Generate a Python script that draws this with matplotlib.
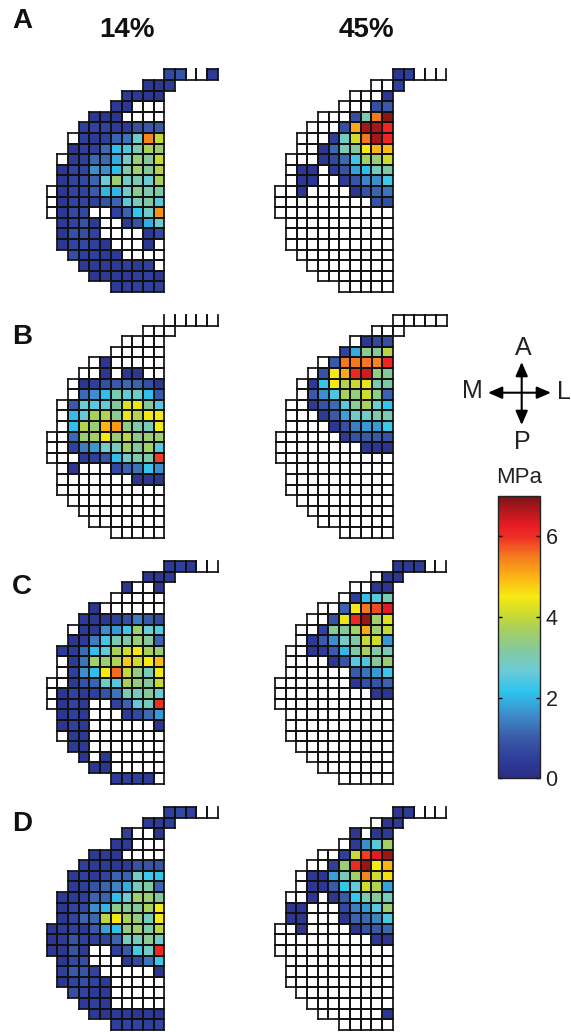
import numpy as np
import matplotlib
matplotlib.use("Agg")
import matplotlib.pyplot as plt
from matplotlib.colors import LinearSegmentedColormap, Normalize
from matplotlib.cm import ScalarMappable
from matplotlib.collections import LineCollection

plt.rcParams['font.family'] = ['Liberation Sans', 'DejaVu Sans']
_ = float('nan')

# first column of each row of the shared grid (rows run top to bottom)
ROW_START = [11, 9, 7, 6, 4, 3, 2, 2, 1, 1, 1, 0, 0, 0, 1, 1, 1, 2, 3, 4, 6]
ROW_END = [16] + [12] + [11] * 19

# values in MPa; _ = unfilled cell; each row starts at ROW_START, missing tail = unfilled
A14 = [
 [.7,.9,_,_,.4],
 [.3,.3,.4],
 [.4,.4,.3,.3],
 [.4,.3],
 [.3,.3,.3],
 [.5,.6,.6,.4,.4,.9,1.,1.],
 [_,.5,.4,.5,1.1,1.3,2.8,5.4,4.],
 [.3,.5,.5,1.2,2.1,2.4,3.,3.7,3.5],
 [_,.4,.5,1.2,1.2,1.9,2.8,3.5,3.2,4.],
 [.3,.6,.6,1.6,1.6,2.1,3.1,3.6,3.2,3.8],
 [.3,.6,.7,1.1,2.7,3.5,2.8,3.,2.7,3.7],
 [_,.3,.6,.6,1.,2.,2.,2.8,3.3,3.,3.1],
 [_,.3,.6,.6,.5,.9,1.1,2.5,2.9,3.1,2.5],
 [_,.3,.7,.7,_,_,.5,1.1,2.2,2.8,5.3],
 [.4,.6,.9,.4,_,_,.4,.9,1.9,2.8],
 [.3,.8,.8,.6,_,_,_,_,.3,.7],
 [.3,.6,.7,.5,.3,_,_,_,.3],
 [.8,.5,.5,.4,.4],
 [.4,.4,.4,.4,.5,.4,.5],
 [.3,.4,.4,.4,.5,.5,.3],
 [.4,.5,.5,.5,.5],
]
A45 = [
 [.3,.5],
 [_,_,.5],
 [_,_,_,.3],
 [_,_,_,.8,1.],
 [_,_,_,.8,3.,5.5,6.9],
 [_,_,_,.8,5.1,6.7,6.7,6.1],
 [_,_,_,.5,2.8,4.1,5.5,6.7,6.1],
 [_,_,.3,1.2,2.9,3.2,4.5,5.,4.9],
 [_,_,_,.3,.7,1.2,2.3,3.6,3.5,4.1],
 [_,.3,.3,_,.4,.9,1.8,2.1,2.9,3.1],
 [_,.3,.3,_,_,.4,.9,1.5,1.6,2.3],
 [_,_,.3,_,_,_,_,.3,.9,1.1,1.3],
 [_,_,_,_,_,_,_,_,_,.9,.8],
 [], [], [], [], [], [], [], [],
]
B14 = [
 [], [], [], [],
 [_,.3],
 [_,_,.3,_,.3,.3],
 [_,.3,.5,.8,1.,1.2,1.1,.8,.3],
 [_,1.2,1.6,2.1,3.,2.6,2.8,2.1,1.],
 [_,1.,2.7,2.5,2.6,3.2,4.2,4.4,3.2,2.5],
 [_,2.1,2.6,3.7,3.8,3.3,4.4,3.8,4.5,4.5],
 [_,2.1,3.8,3.5,5.,5.2,3.4,3.1,2.9,4.5],
 [_,_,1.2,3.5,3.6,4.5,3.5,3.9,3.3,3.5,3.6],
 [_,_,.5,1.4,1.7,2.8,2.9,3.6,3.2,3.6,2.5],
 [_,_,_,.4,.5,.9,2.1,2.8,3.1,3.1,5.9],
 [_,.3,_,_,_,.7,1.1,1.3,2.2,1.6],
 [_,_,_,_,_,_,_,.3,.3,.3],
 [], [], [], [], [],
]
B45 = [
 [], [],
 [_,.3,.7,.8],
 [.6,1.9,3.3,3.2,3.9],
 [_,1.,5.5,5.5,5.5,5.4,6.1],
 [_,.9,4.5,5.1,6.1,6.4,3.4,3.2],
 [_,.4,2.2,4.5,3.8,4.,4.4,3.,3.1],
 [_,1.,1.6,2.4,3.7,3.4,4.1,3.3,1.1],
 [_,_,.4,.9,1.2,2.5,3.3,3.7,2.7,2.2],
 [_,_,_,.4,1.,1.8,2.8,2.8,3.1,3.],
 [_,_,_,_,.3,.8,1.4,1.7,1.7,2.3],
 [_,_,_,_,_,_,.4,.9,1.,1.,.9],
 [_,_,_,_,_,_,_,_,.3,.3,.2],
 [], [], [], [], [], [], [], [],
]
C14 = [
 [.4,.5,.4],
 [.3,.3,.4],
 [.3,_,_,.3],
 [],
 [.3],
 [.4,.3,.3,.5,.8,1.4,1.,.7],
 [_,.4,.4,1.6,1.7,2.3,3.5,2.7,2.5],
 [.3,.4,1.4,2.3,3.,3.1,3.5,3.2,1.1],
 [.4,.4,1.2,2.1,2.6,3.7,4.1,4.5,3.7,3.5],
 [_,.4,1.3,3.6,3.5,3.8,4.8,4.1,4.5,4.9],
 [_,.5,1.6,2.1,4.5,5.6,4.,3.4,2.9,4.5],
 [_,_,.4,.9,1.1,2.8,2.5,3.7,3.4,3.2,4.],
 [_,.3,.6,.4,.5,.9,1.3,3.,2.9,3.2,2.7],
 [_,.3,.6,.4,_,_,.6,1.1,2.6,2.9,6.],
 [.3,.5,.4,_,_,_,.4,.7,1.2,1.7],
 [.3,.5,.4,_,_,_,_,_,_,.3],
 [_,.4,.4],
 [.4,.4],
 [.3,_,.4],
 [.3,.3],
 [.4,.5,.5,.4],
]
C45 = [
 [.3,.4,.4],
 [_,.3,.3],
 [_,_,.3,.3],
 [_,.5,2.1,2.5,3.],
 [_,_,1.1,4.5,5.5,5.8,6.3],
 [_,_,.9,4.4,6.1,6.8,3.6,4.2],
 [_,_,.6,3.3,3.2,3.6,5.1,3.6,4.],
 [_,.4,1.,1.6,2.8,3.1,4.,4.1,1.7],
 [_,_,.3,.4,1.,2.,3.1,3.7,3.1,2.9],
 [_,_,_,_,.3,.9,2.5,2.4,3.2,3.5],
 [_,_,_,_,_,_,1.,1.3,1.7,2.3],
 [_,_,_,_,_,_,_,.3,.8,.9,1.1],
 [_,_,_,_,_,_,_,_,_,.3,.3],
 [], [], [], [], [], [], [], [],
]
D14 = [
 [.5,.7,.5],
 [.4,.4,.5],
 [.5,_,_,.3],
 [.4,.4],
 [.4,.4,.3],
 [.5,.4,.4,.3,.4,.9,.9,.9],
 [.4,.5,.4,.6,1.1,1.1,2.8,2.3,2.2],
 [.4,.5,.9,1.1,1.5,1.9,2.9,3.1,1.1],
 [.4,.4,.5,1.1,1.1,2.1,2.7,3.6,3.5,3.2],
 [.3,.6,.7,1.6,2.,3.3,3.2,3.2,3.7,4.5],
 [.3,.6,1.1,1.2,3.9,4.5,3.7,3.4,2.9,4.5],
 [.3,.4,.5,.4,1.,1.8,2.1,3.4,3.6,3.1,3.9],
 [.3,.4,.9,.5,.5,.6,1.1,2.9,2.9,3.3,2.8],
 [.3,.3,.9,.4,_,_,.5,1.,2.4,2.8,6.1],
 [.3,.7,.8,_,_,_,.4,.7,1.3,2.3],
 [.5,1.,.9,.6,_,_,_,_,_,.3],
 [.3,.6,.8,.6,.4],
 [.8,.6,.4,.4],
 [.4,.5,.4],
 [.4,.3,.4,.4,.3,.4,.3],
 [.5,.6,.6,.5,.6],
]
D45 = [
 [.3,.4],
 [_,.3,.4],
 [.3,_,.3,.4],
 [_,.4,1.6,2.5,3.6],
 [_,_,.5,4.,5.9,6.3,6.8],
 [_,_,.5,3.5,6.1,6.8,4.5,5.],
 [_,.3,.3,1.8,2.9,3.6,5.4,4.1,4.6],
 [_,.3,.3,1.,2.2,2.6,4.1,3.8,1.8],
 [_,_,.3,_,.3,1.,2.2,3.,3.2,2.9],
 [.3,.3,_,_,_,.7,1.4,1.7,2.5,3.5],
 [.3,.3,_,_,_,.3,1.1,1.2,1.5,2.4],
 [_,_,.3,_,_,_,_,.3,.9,1.,1.2],
 [_,_,_,_,_,_,_,_,_,.3,.3],
 [], [], [], [], [], [],
 [_,_,_,_,_,_,.3],
 [],
]
PANEL_VALUES = [A14, A45, B14, B45, C14, C45, D14, D45]
ROW_LETTERS = ['A', 'B', 'C', 'D']
COLUMN_TITLES = ['14%', '45%']
COLORBAR_TICKS = [0, 2, 4, 6]
DIRECTIONS = ['A', 'P', 'M', 'L']

# (left px, top px, tail has a top border)
PLACES = [(46.7, 69.4, False), (275.3, 69.4, False),
          (46.7, 315.0, False), (275.5, 315.0, True),
          (46.7, 561.0, False), (275.0, 561.0, False),
          (46.7, 807.3, False), (275.0, 807.3, False)]
W, H = 571, 1032
GRID_W, GRID_H = 171.0, 222.5
NCOLS, NROWS = 16, 21

cmap = LinearSegmentedColormap.from_list('mpa', [
    (0 / 7, '#2a2d84'), (.5 / 7, '#2f3f9c'), (1 / 7, '#3a5aa9'), (1.5 / 7, '#3e86c6'),
    (2.15 / 7, '#2fc4ef'), (2.7 / 7, '#6fcbd2'), (3.2 / 7, '#84c99c'), (3.7 / 7, '#a8d05c'),
    (4.1 / 7, '#cfdc2c'), (4.5 / 7, '#f5ea14'), (5 / 7, '#fcb316'), (5.5 / 7, '#f47b20'),
    (6 / 7, '#ee2f24'), (6.25 / 7, '#ed1c24'), (7 / 7, '#7b1416')])
norm = Normalize(0, 7)

fig = plt.figure(figsize=(W / 100, H / 100), dpi=100)
fig.patch.set_facecolor('white')


def px_axes(x, y, w, h):
    return fig.add_axes([x / W, 1 - (y + h) / H, w / W, h / H])


LW = 1.25
for values, (left, top, tail_top) in zip(PANEL_VALUES, PLACES):
    ax = px_axes(left, top, GRID_W, GRID_H)
    grid = np.full((NROWS, NCOLS), np.nan)
    segs = []
    for r in range(NROWS):
        row = values[r]
        for c in range(ROW_START[r], ROW_END[r]):
            i = c - ROW_START[r]
            if i < len(row):
                grid[r, c] = row[i]
            filled = not np.isnan(grid[r, c])
            segs += [[(c, r), (c, r + 1)], [(c + 1, r), (c + 1, r + 1)], [(c, r + 1), (c + 1, r + 1)]]
            if r > 0 or tail_top or filled:
                segs.append([(c, r), (c + 1, r)])
    ax.pcolormesh(np.arange(NCOLS + 1), np.arange(NROWS + 1), np.ma.masked_invalid(grid),
                  cmap=cmap, norm=norm, linewidth=0)
    lines = LineCollection(segs, colors='#111111', linewidths=LW, capstyle='projecting')
    lines.set_clip_on(False)
    ax.add_collection(lines)
    ax.set_xlim(0, NCOLS)
    ax.set_ylim(NROWS, 0)
    ax.axis('off')

# overlay in pixel coordinates for labels and the direction cross
ov = fig.add_axes([0, 0, 1, 1], zorder=5)
ov.set_xlim(0, W)
ov.set_ylim(H, 0)
ov.axis('off')
for letter, y in zip(ROW_LETTERS, [21, 337, 587, 824]):
    ov.text(22, y, letter, fontsize=20, fontweight='bold', ha='center', va='center', color='#111111')
for title, x in zip(COLUMN_TITLES, [127, 366]):
    ov.text(x, 30, title, fontsize=20, fontweight='bold', ha='center', va='center', color='#111111')

cx, cy = 521.7, 392.7
arrow = dict(arrowstyle='<|-|>,head_length=0.6,head_width=0.26', color='black', lw=1.5,
             shrinkA=0, shrinkB=0, mutation_scale=14)
ov.annotate('', xy=(488, cy), xytext=(551, cy), arrowprops=arrow)
ov.annotate('', xy=(cx, 362), xytext=(cx, 425), arrowprops=arrow)
for t, (x, y) in zip(DIRECTIONS, [(523, 348), (522, 442), (472, 391), (564, 392)]):
    ov.text(x, y, t, fontsize=18, ha='center', va='center', color='#222222')
ov.text(519, 477.5, 'MPa', fontsize=16, ha='center', va='center', color='#222222')

# colorbar
cax = px_axes(498.3, 495.7, 41.7, 282.6)
cb = fig.colorbar(ScalarMappable(norm=norm, cmap=cmap), cax=cax)
cb.set_ticks(COLORBAR_TICKS)
cb.ax.tick_params(direction='in', length=3, width=1, left=True, right=True,
                  labelsize=15.5, pad=4, labelcolor='#222222')
cb.outline.set_linewidth(1)
cb.outline.set_edgecolor('#222222')

fig.savefig('out.png', dpi=100)
